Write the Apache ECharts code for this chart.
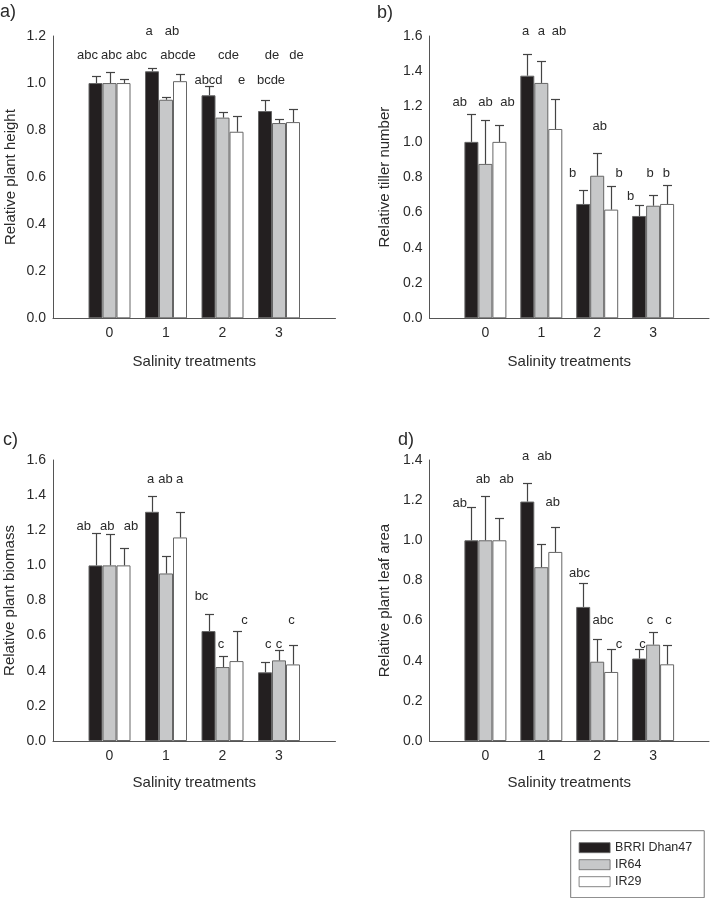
<!DOCTYPE html>
<html><head><meta charset="utf-8">
<script src="https://cdn.jsdelivr.net/npm/echarts@6/dist/echarts.min.js"></script>
<style>html,body{margin:0;padding:0;background:#fff}#c{width:712px;height:898px}</style>
</head><body><div id="c"></div>
<script>
// ---------- data ----------
const treatments = ['0', '1', '2', '3'];
const cultivars = ['BRRI Dhan47', 'IR64', 'IR29'];

// a) relative plant height  (rows: BRRI Dhan47, IR64, IR29)
const heightMeans = [[1.00, 1.05, 0.948, 0.881], [1.00, 0.929, 0.853, 0.830], [1.00, 1.008, 0.793, 0.834]];
const heightErrs  = [[0.030, 0.014, 0.041, 0.045], [0.045, 0.013, 0.025, 0.017], [0.017, 0.032, 0.068, 0.056]];
// b) relative tiller number
const tillerMeans = [[1.00, 1.375, 0.648, 0.580], [0.875, 1.334, 0.808, 0.638], [1.00, 1.073, 0.616, 0.648]];
const tillerErrs  = [[0.156, 0.121, 0.081, 0.062], [0.247, 0.124, 0.131, 0.059], [0.094, 0.172, 0.132, 0.109]];
// c) relative plant biomass
const biomassMeans = [[1.00, 1.305, 0.626, 0.391], [1.00, 0.954, 0.421, 0.459], [1.00, 1.159, 0.455, 0.436]];
const biomassErrs  = [[0.182, 0.090, 0.099, 0.061], [0.180, 0.097, 0.065, 0.061], [0.097, 0.143, 0.169, 0.112]];
// d) relative plant leaf area
const leafMeans = [[1.00, 1.193, 0.668, 0.411], [1.00, 0.866, 0.395, 0.480], [1.00, 0.942, 0.344, 0.382]];
const leafErrs  = [[0.166, 0.090, 0.121, 0.046], [0.220, 0.117, 0.112, 0.063], [0.113, 0.125, 0.113, 0.096]];

// significance letters: [treatment index, text, y value, x shift in px from group centre]
const heightLetters = [
  [0, 'abc', 1.117, -22], [0, 'abc', 1.117, 2], [0, 'abc', 1.117, 27],
  [1, 'a', 1.218, -17], [1, 'ab', 1.218, 6], [1, 'abcde', 1.117, 12],
  [2, 'abcd', 1.011, -14], [2, 'cde', 1.117, 6], [2, 'e', 1.011, 19],
  [3, 'bcde', 1.011, -8], [3, 'de', 1.117, -7], [3, 'de', 1.117, 17.5]
];
const tillerLetters = [
  [0, 'ab', 1.222, -25.7], [0, 'ab', 1.222, 0], [0, 'ab', 1.222, 22],
  [1, 'a', 1.624, -15.6], [1, 'a', 1.624, 0], [1, 'ab', 1.624, 17.8],
  [2, 'b', 0.822, -24.5], [2, 'ab', 1.086, 2.5], [2, 'b', 0.822, 22],
  [3, 'b', 0.689, -22.5], [3, 'b', 0.822, -3], [3, 'b', 0.822, 13.3]
];
const biomassLetters = [
  [0, 'ab', 1.224, -25.8], [0, 'ab', 1.224, -2.3], [0, 'ab', 1.224, 21.4],
  [1, 'a', 1.49, -15.5], [1, 'ab', 1.49, -0.6], [1, 'a', 1.49, 13.7],
  [2, 'bc', 0.822, -21], [2, 'c', 0.55, -1.4], [2, 'c', 0.687, 22],
  [3, 'c', 0.55, -10.7], [3, 'c', 0.55, 0], [3, 'c', 0.687, 12.6]
];
const leafLetters = [
  [0, 'ab', 1.184, -25.7], [0, 'ab', 1.304, -2.4], [0, 'ab', 1.304, 21],
  [1, 'a', 1.42, -15.6], [1, 'ab', 1.42, 3.3], [1, 'ab', 1.188, 11.4],
  [2, 'abc', 0.836, -17.8], [2, 'abc', 0.60, 5.9], [2, 'c', 0.482, 21.9],
  [3, 'c', 0.482, -10.5], [3, 'c', 0.60, -3], [3, 'c', 0.60, 15.5]
];

const panelLabels = ['a)', 'b)', 'c)', 'd)'];
const yTitles = ['Relative plant height', 'Relative tiller number', 'Relative plant biomass', 'Relative plant leaf area'];
const xTitle = 'Salinity treatments';
const yMaxes = [1.2, 1.6, 1.6, 1.4];

// ---------- layout / style ----------
const FONT = "'Liberation Sans', Arial, Helvetica, sans-serif";
const TXT = '#2a2a2a';
const AXIS = '#555';
const fills = ['#231f20', '#c7c8c9', '#ffffff'];
const barOffsets = [-14, 0, 14];
const layouts = [
  { left: 53, top: 36, width: 282.5, height: 282.3, yGap: 35, xGap: 36, lab: [0, 12.5] },
  { left: 429.5, top: 36, width: 282.2, height: 282.3, yGap: 37.5, xGap: 36, lab: [377, 13] },
  { left: 53, top: 460, width: 282.5, height: 281, yGap: 36, xGap: 34.5, lab: [3, 440] },
  { left: 429.5, top: 460, width: 282.2, height: 281, yGap: 37, xGap: 34.5, lab: [398, 440] }
];
const panels = [
  { means: heightMeans, errs: heightErrs, letters: heightLetters },
  { means: tillerMeans, errs: tillerErrs, letters: tillerLetters },
  { means: biomassMeans, errs: biomassErrs, letters: biomassLetters },
  { means: leafMeans, errs: leafErrs, letters: leafLetters }
];

const grid = [], xAxis = [], yAxis = [], series = [], graphic = [];
panels.forEach((p, i) => {
  const L = layouts[i];
  grid.push({ left: L.left, top: L.top, width: L.width, height: L.height, containLabel: false });
  xAxis.push({
    type: 'value', gridIndex: i, min: -1, max: 4, interval: 1,
    axisLine: { show: true, onZero: false, lineStyle: { color: AXIS, width: 1 } },
    axisTick: { show: false }, splitLine: { show: false },
    axisLabel: {
      color: TXT, fontSize: 14, fontFamily: FONT, margin: 8,
      formatter: v => (v >= 0 && v < treatments.length) ? treatments[v] : ''
    },
    name: xTitle, nameLocation: 'middle', nameGap: L.xGap,
    nameTextStyle: { color: TXT, fontSize: 15, fontFamily: FONT }
  });
  yAxis.push({
    type: 'value', gridIndex: i, min: 0, max: yMaxes[i], interval: 0.2,
    axisLine: { show: true, onZero: false, lineStyle: { color: AXIS, width: 1 } },
    axisTick: { show: false }, splitLine: { show: false },
    axisLabel: { color: TXT, fontSize: 14, fontFamily: FONT, margin: 7, formatter: v => v.toFixed(1) },
    name: yTitles[i], nameLocation: 'middle', nameGap: L.yGap, nameRotate: 90,
    nameTextStyle: { color: TXT, fontSize: 15, fontFamily: FONT }
  });
  cultivars.forEach((c, k) => {
    series.push({
      type: 'bar', name: c, xAxisIndex: i, yAxisIndex: i,
      barWidth: 14, barGap: '0%',
      data: treatments.map((t, j) => [j, p.means[k][j]]),
      itemStyle: { color: fills[k], borderColor: '#666', borderWidth: 1 },
      emphasis: { disabled: true }, silent: true
    });
  });
  const errData = [];
  cultivars.forEach((c, k) => treatments.forEach((t, j) => errData.push([j, p.means[k][j], p.errs[k][j], k])));
  series.push({
    type: 'custom', xAxisIndex: i, yAxisIndex: i, clip: false, z: 5, silent: true,
    data: errData,
    renderItem: (params, api) => {
      const k = api.value(3);
      const base = api.coord([api.value(0), api.value(1)]);
      const top = api.coord([api.value(0), api.value(1) + api.value(2)]);
      const x = Math.round(base[0] + barOffsets[k]) + 0.5;
      const ty = Math.round(top[1]) + 0.5;
      const st = { stroke: '#444', lineWidth: 1.2 };
      return { type: 'group', children: [
        { type: 'line', shape: { x1: x, y1: base[1], x2: x, y2: ty }, style: st },
        { type: 'line', shape: { x1: x - 4.5, y1: ty, x2: x + 4.5, y2: ty }, style: st }
      ] };
    }
  });
  series.push({
    type: 'custom', xAxisIndex: i, yAxisIndex: i, clip: false, z: 6, silent: true,
    data: p.letters.map(l => [l[0], l[2]]),
    renderItem: (params, api) => {
      const l = p.letters[params.dataIndex];
      const pt = api.coord([api.value(0), api.value(1)]);
      return { type: 'text', x: pt[0] + l[3], y: pt[1],
        style: { text: l[1], fontSize: 13, fontFamily: FONT, fill: TXT, align: 'center', verticalAlign: 'middle' } };
    }
  });
  graphic.push({ type: 'text', x: L.lab[0], y: L.lab[1],
    style: { text: panelLabels[i], fontSize: 18, fontFamily: FONT, fill: TXT, align: 'left', verticalAlign: 'middle' } });
});

const chart = echarts.init(document.getElementById('c'), null, { renderer: 'canvas' });
chart.setOption({
  animation: false,
  backgroundColor: '#fff',
  grid, xAxis, yAxis, series, graphic,
  legend: {
    data: cultivars, orient: 'vertical', left: 570.7, top: 830.7,
    itemWidth: 31, itemHeight: 10, itemGap: 3, icon: 'rect', selectedMode: false,
    itemStyle: { borderWidth: 0.8, borderColor: '#666' },
    borderColor: '#777', borderWidth: 1, padding: [10, 12, 9, 8],
    textStyle: { fontSize: 12.5, fontFamily: FONT, color: TXT, lineHeight: 14 }
  }
});
</script></body></html>
